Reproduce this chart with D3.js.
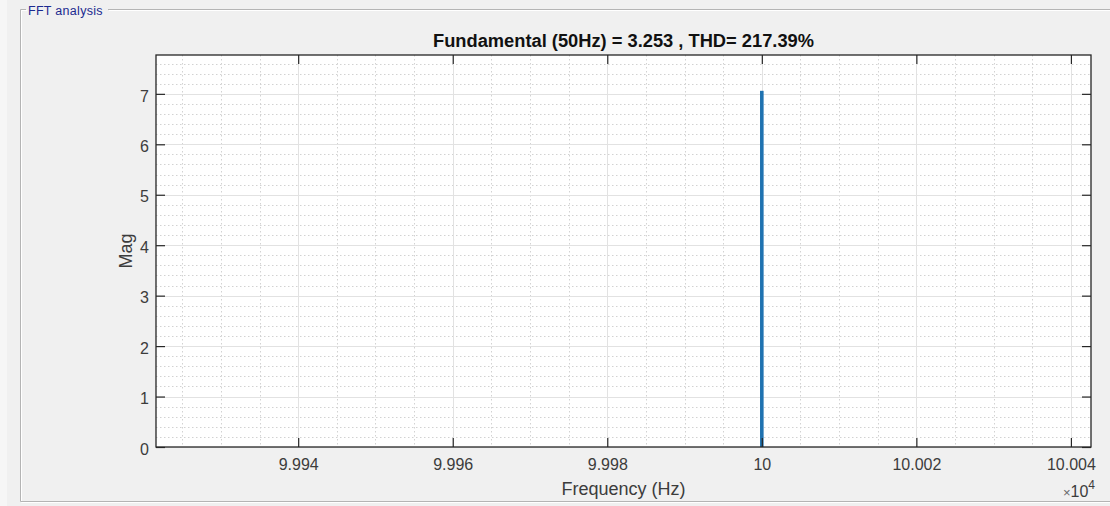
<!DOCTYPE html>
<html>
<head>
<meta charset="utf-8">
<script src="https://cdn.jsdelivr.net/npm/d3@7"></script>
<style>
  html, body { margin: 0; padding: 0; background: #f0f0f0; }
  svg { display: block; font-family: "Liberation Sans", Arial, Helvetica, sans-serif; }
</style>
</head>
<body>
<svg id="chart" width="1110" height="506"></svg>
<script>
// ---- data ----
const panelTitle = "FFT analysis";
const chartTitle = "Fundamental (50Hz) = 3.253 , THD= 217.39%";
const xLabel = "Frequency (Hz)";
const yLabel = "Mag";
const frequencyHz = [100000];
const magnitude = [7.06];
const xDomain = [99921.6, 100042.6];
const yDomain = [0, 7.77];
const xTicks = [99940, 99960, 99980, 100000, 100020, 100040];
const xTickLabels = ["9.994", "9.996", "9.998", "10", "10.002", "10.004"];
const yTicks = [0, 1, 2, 3, 4, 5, 6, 7];
const yTickLabels = ["0", "1", "2", "3", "4", "5", "6", "7"];
const xMinorStep = 5;
const yMinorStep = 0.2;

// ---- layout ----
const W = 1110, H = 506;
const L = 156, R = 1091, T = 55, B = 447;
const svg = d3.select("#chart");

// background & panel
svg.append("rect").attr("x", 0).attr("y", 0).attr("width", W).attr("height", H).attr("fill", "#f0f0f0");
svg.append("rect").attr("x", 0).attr("y", 0).attr("width", 7).attr("height", H).attr("fill", "#f6f6f6");

const panel = svg.append("g");
const etch = (x1, y1, x2, y2) => {
  panel.append("line").attr("x1", x1).attr("y1", y1).attr("x2", x2).attr("y2", y2)
    .attr("stroke", "#b4b4b4").attr("stroke-width", 1);
  panel.append("line").attr("x1", x1 + 1).attr("y1", y1 + 1).attr("x2", x2 + 1).attr("y2", y2 + 1)
    .attr("stroke", "#ffffff").attr("stroke-width", 1);
};
etch(20.5, 9.5, 26, 9.5);
etch(108, 9.5, 1112, 9.5);
etch(20.5, 9.5, 20.5, 501.5);
etch(20.5, 501.5, 1112, 501.5);
panel.append("text").attr("x", 28).attr("y", 15).attr("font-size", 12.5)
  .attr("letter-spacing", 0.3)
  .attr("fill", "#1b2a8f").attr("font-family", "Liberation Sans, Arial, sans-serif")
  .text(panelTitle);

// scales
const x = d3.scaleLinear().domain(xDomain).range([L, R]);
const y = d3.scaleLinear().domain(yDomain).range([B, T]);

// plot background
svg.append("rect").attr("x", L).attr("y", T).attr("width", R - L).attr("height", B - T).attr("fill", "#ffffff");

// minor grid
const xMinor = d3.range(Math.ceil(xDomain[0] / xMinorStep) * xMinorStep, xDomain[1], xMinorStep)
  .filter(v => !xTicks.includes(v));
const yMinor = d3.range(yMinorStep, yDomain[1], yMinorStep)
  .map(v => +v.toFixed(2)).filter(v => Math.abs(v - Math.round(v)) > 1e-6);
const grid = svg.append("g");
grid.selectAll(".xmin").data(xMinor).join("line")
  .attr("x1", d => Math.round(x(d)) + 0.5).attr("x2", d => Math.round(x(d)) + 0.5)
  .attr("y1", T).attr("y2", B)
  .attr("stroke", "#d2d2d2").attr("stroke-width", 1).attr("stroke-dasharray", "1.5,2.5");
grid.selectAll(".ymin").data(yMinor).join("line")
  .attr("y1", d => Math.round(y(d)) + 0.5).attr("y2", d => Math.round(y(d)) + 0.5)
  .attr("x1", L).attr("x2", R)
  .attr("stroke", "#d2d2d2").attr("stroke-width", 1).attr("stroke-dasharray", "1.5,2.5");
// major grid
grid.selectAll(".xmaj").data(xTicks).join("line")
  .attr("x1", d => Math.round(x(d)) + 0.5).attr("x2", d => Math.round(x(d)) + 0.5)
  .attr("y1", T).attr("y2", B)
  .attr("stroke", "#e2e2e2").attr("stroke-width", 1);
grid.selectAll(".ymaj").data(yTicks).join("line")
  .attr("y1", d => Math.round(y(d)) + 0.5).attr("y2", d => Math.round(y(d)) + 0.5)
  .attr("x1", L).attr("x2", R)
  .attr("stroke", "#e2e2e2").attr("stroke-width", 1);

// bars
svg.append("g").selectAll("rect").data(frequencyHz).join("rect")
  .attr("x", d => x(d) - 1.8)
  .attr("width", 3.6)
  .attr("y", (d, i) => y(magnitude[i]))
  .attr("height", (d, i) => y(0) - y(magnitude[i]))
  .attr("fill", "#1f72b0");

// axes (MATLAB-style box with inward ticks)
const axisColor = "#262626";
const tickLen = 9;
const fmtX = (d) => xTickLabels[xTicks.indexOf(d)];
const fmtY = (d) => yTickLabels[yTicks.indexOf(d)];

const xAxisB = d3.axisBottom(x).tickValues(xTicks).tickFormat(fmtX).tickSizeInner(-tickLen).tickSizeOuter(0).tickPadding(12);
const xAxisT = d3.axisTop(x).tickValues(xTicks).tickFormat("").tickSizeInner(-tickLen).tickSizeOuter(0);
const yAxisL = d3.axisLeft(y).tickValues(yTicks).tickFormat(fmtY).tickSizeInner(-tickLen).tickSizeOuter(0).tickPadding(7);
const yAxisR = d3.axisRight(y).tickValues(yTicks).tickFormat("").tickSizeInner(-tickLen).tickSizeOuter(0);

function styleAxis(g) {
  g.select(".domain").remove();
  g.selectAll(".tick line").attr("stroke", axisColor).attr("stroke-width", 1.2);
  g.selectAll(".tick text").attr("fill", "#3c3c3c").attr("font-size", 16)
    .attr("font-family", "Liberation Sans, Arial, sans-serif");
}
svg.append("g").attr("transform", `translate(0,${B})`).call(xAxisB).call(styleAxis);
svg.append("g").attr("transform", `translate(0,${T})`).call(xAxisT).call(styleAxis);
svg.append("g").attr("transform", `translate(${L},0)`).call(yAxisL).call(styleAxis)
  .selectAll(".tick text").attr("dy", "0.45em");
svg.append("g").attr("transform", `translate(${R},0)`).call(yAxisR).call(styleAxis);
svg.append("rect").attr("x", L).attr("y", T).attr("width", R - L).attr("height", B - T)
  .attr("fill", "none").attr("stroke", axisColor).attr("stroke-width", 1.3);

// title and labels
svg.append("text").attr("x", (L + R) / 2).attr("y", 47).attr("text-anchor", "middle")
  .attr("font-size", 18.3).attr("font-weight", "bold").attr("fill", "#111")
  .text(chartTitle);
svg.append("text").attr("x", (L + R) / 2).attr("y", 495).attr("text-anchor", "middle")
  .attr("font-size", 18).attr("fill", "#3c3c3c").text(xLabel);
svg.append("text").attr("transform", `translate(132,${(T + B) / 2}) rotate(-90)`)
  .attr("text-anchor", "middle").attr("font-size", 18).attr("fill", "#3c3c3c").text(yLabel);

// exponent
const ex = svg.append("text").attr("x", 1095).attr("y", 497).attr("text-anchor", "end")
  .attr("fill", "#3c3c3c").attr("font-size", 16);
ex.append("tspan").attr("font-size", 13).attr("fill", "#666").text("\u00d7");
ex.append("tspan").text("10");
ex.append("tspan").attr("font-size", 12).attr("dy", -8).text("4");
</script>
</body>
</html>
